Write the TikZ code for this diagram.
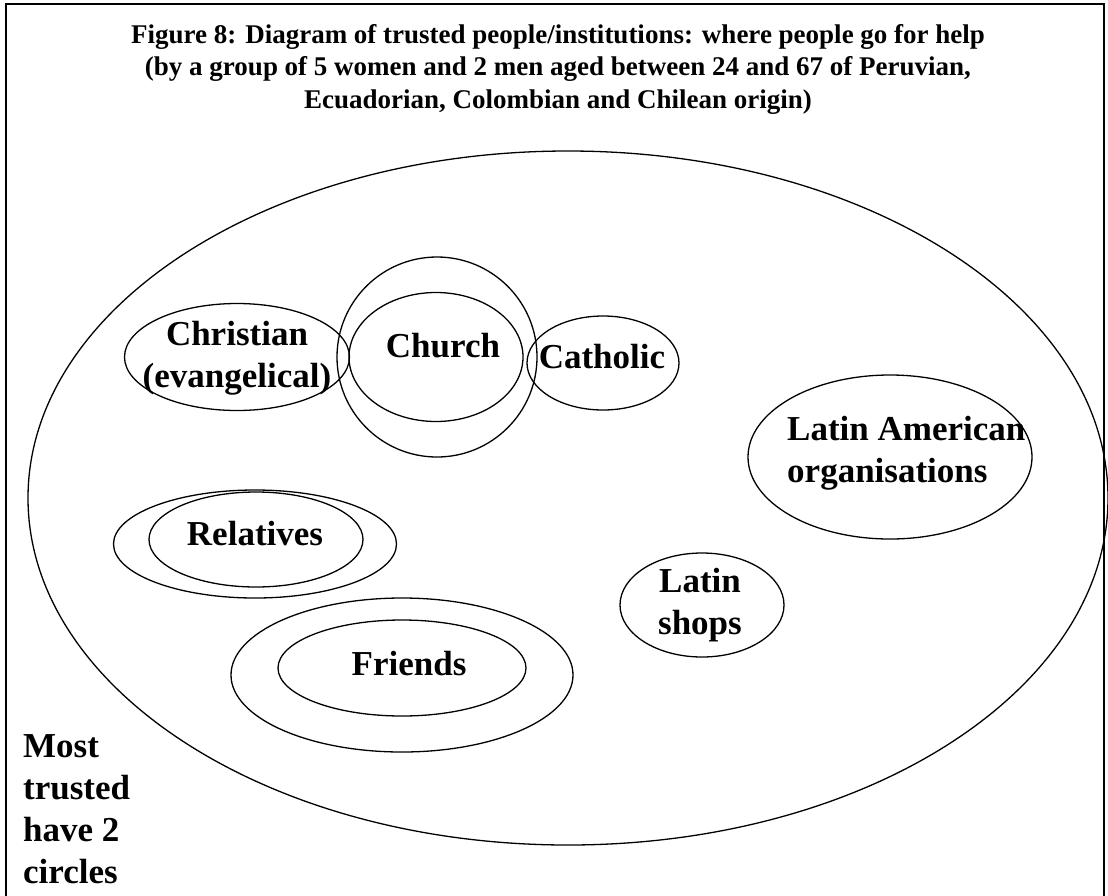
\documentclass[tikz,border=0pt]{standalone}
\usepackage{fontspec}
\setmainfont{Liberation Serif}
\usetikzlibrary{shapes.geometric}

\begin{document}
\begin{tikzpicture}[x=1pt,y=-1pt,
    ring/.style={draw, ellipse, line width=1.3pt, inner sep=0pt},
    lbl/.style={font=\fontsize{35}{42}\selectfont\bfseries, anchor=base, inner sep=0pt, align=center}]
  \clip (0,0) rectangle (1108,895);
  \draw[line width=1.4pt] (6,920) -- (6,4) -- (1104,4) -- (1104,920);
  \node[font=\fontsize{27}{32.5}\selectfont\bfseries, align=center, anchor=base, inner sep=0pt] (title) at (558,108)
    {Figure 8: Diagram of trusted people/institutions: where people go for help\\
     (by a group of 5 women and 2 men aged between 24 and 67 of Peruvian,\\
     Ecuadorian, Colombian and Chilean origin)};
  % the whole circle
  \node[ring, minimum width=1080pt, minimum height=694pt] (all) at (568,498) {};
  % church group
  \node[ring, minimum width=225pt, minimum height=107pt] (christian) at (237,357) {};
  \node[ring, minimum width=200pt, minimum height=200pt] (churchout) at (437,357) {};
  \node[ring, minimum width=174pt, minimum height=129pt] (churchin) at (436,357) {};
  \node[ring, minimum width=152pt, minimum height=94pt] (catholic) at (603,363) {};
  \node[lbl] (christiantxt) at (237,387) {Christian\\(evangelical)};
  \node[lbl] (churchtxt) at (443,357) {Church};
  \node[lbl] (catholictxt) at (602,368) {Catholic};
  % latin american
  \node[ring, minimum width=284pt, minimum height=164pt] (latam) at (890,457) {};
  \node[lbl, anchor=base west, align=left] (latamtxt) at (787,482) {Latin American\\organisations};
  \node[ring, minimum width=164pt, minimum height=104pt] (shops) at (702,605) {};
  \node[lbl] (shopstxt) at (700,634) {Latin\\shops};
  % relatives and friends
  \node[ring, minimum width=283pt, minimum height=108pt] (relout) at (255,544) {};
  \node[ring, minimum width=214pt, minimum height=95pt] (relin) at (256,539.5) {};
  \node[lbl] (reltxt) at (255,545) {Relatives};
  \node[ring, minimum width=342pt, minimum height=154pt] (frout) at (402,675) {};
  \node[ring, minimum width=248pt, minimum height=96pt] (frin) at (402,668) {};
  \node[lbl] (frtxt) at (409,675) {Friends};
  \node[lbl, anchor=base west, align=left] (note) at (23,883) {Most\\trusted\\have 2\\circles};
\end{tikzpicture}
\end{document}
